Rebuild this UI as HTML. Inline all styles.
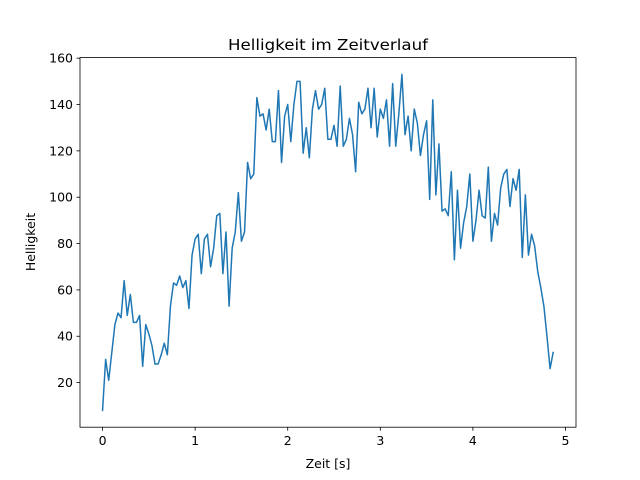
<!DOCTYPE html>
<html><head><meta charset="utf-8"><style>
body{margin:0;background:#fff;font-family:"DejaVu Sans","Liberation Sans",sans-serif}
svg{display:block}
</style></head><body>
<svg id="chart" width="640" height="480" xmlns="http://www.w3.org/2000/svg" font-family="DejaVu Sans, Liberation Sans, sans-serif">
<rect width="640" height="480" fill="#fff"/>
<text x="328" y="50" font-size="15" text-anchor="middle" textLength="200" lengthAdjust="spacingAndGlyphs" fill="#000">Helligkeit im Zeitverlauf</text>
<g id="plot"></g>
<rect x="80" y="57.6" width="496" height="369.6" fill="none" stroke="#000" stroke-width="0.8"/>
<text x="328" y="468" font-size="12.5" text-anchor="middle">Zeit [s]</text>
<text transform="translate(35,242) rotate(-90)" font-size="12.5" text-anchor="middle">Helligkeit</text>
</svg>
<script>
const dt = 1/30;
const brightness = [8,30,21,33,45,50,48,64,49,58,46,46,49,27,45,41,36,28,28,32,37,32,53,63,62,66,61,64,52,75,
82,84,67,82,84,70,78,92,93,67,85,53,78,85,102,81,85,115,108,110,143,135,136,129,138,124,124,146,115,135,
140,124,140,150,150,119,130,117,138,146,138,140,147,125,125,131,122,148,122,125,134,127,111,141,136,138,147,130,147,126,
138,134,142,122,149,122,136,153,127,135,120,138,132,118,127,133,99,142,101,123,94,95,92,111,73,103,78,89,96,110,
81,90,103,92,91,113,81,93,88,104,110,112,96,108,103,112,74,101,75,84,79,68,61,53,40,26,33];
const xTicks = [0,1,2,3,4,5];
const yTicks = [20,40,60,80,100,120,140,160];
const xMin=-0.2435, xMax=5.1135, yMin=0.75, yMax=160.25;
const L=80,R=576,T=57.6,B=427.2;
const sx=v=>L+(v-xMin)/(xMax-xMin)*(R-L);
const sy=v=>B-(v-yMin)/(yMax-yMin)*(B-T);
const NS="http://www.w3.org/2000/svg";
const g=document.getElementById('plot');
function mk(tag,attrs){const e=document.createElementNS(NS,tag);for(const k in attrs)e.setAttribute(k,attrs[k]);return e;}
xTicks.forEach(t=>{
  const l=mk('line',{x1:sx(t),x2:sx(t),y1:B,y2:B+3.5,stroke:'#000','stroke-width':0.8});
  
  
  g.appendChild(l);
  const tx=mk('text',{x:sx(t),y:B+18,'font-size':12.5,'text-anchor':'middle'});
  tx.textContent=t;
  
  
  g.appendChild(tx);
});
yTicks.forEach(t=>{
  const l=mk('line',{x1:L-3.5,x2:L,y1:sy(t),y2:sy(t),stroke:'#000','stroke-width':0.8});
  
  
  g.appendChild(l);
  const tx=mk('text',{x:L-7,y:sy(t)+4.5,'font-size':12.5,'text-anchor':'end'});
  tx.textContent=t;
  
  
  g.appendChild(tx);
});
const pts=brightness.map((v,i)=>sx(i*dt).toFixed(2)+','+sy(v).toFixed(2)).join(' ');
const line=mk('polyline',{points:pts,fill:'none',stroke:'#1f77b4','stroke-width':1.5,'stroke-linejoin':'round','stroke-linecap':'square'});


g.appendChild(line);
</script>
</body></html>
